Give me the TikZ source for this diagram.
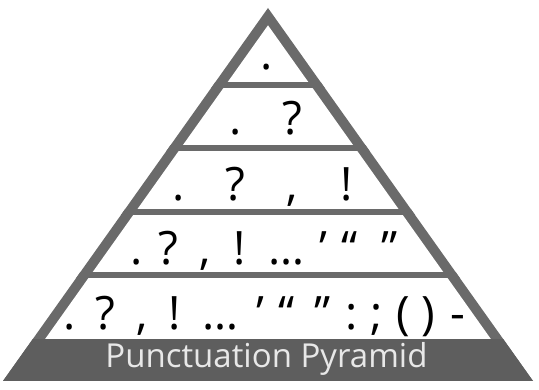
\documentclass[tikz,border=0pt]{standalone}
\usepackage{fontspec}
\setmainfont{Open Sans}
\definecolor{edgegrey}{HTML}{6A6A6A}
\definecolor{basegrey}{HTML}{5E5E5E}
\definecolor{basetext}{HTML}{E8E8E8}
\begin{document}
\begin{tikzpicture}[x=1pt,y=-1pt,
  glyph/.style={anchor=base, inner sep=0pt, font=\fontsize{46}{46}\selectfont, text=black},
  title/.style={anchor=base, inner sep=0pt, font=\fontsize{33}{33}\selectfont, text=basetext}]
\useasboundingbox (0,0) rectangle (539,390);
\fill[white] (0,0) rectangle (539,390);
% outer triangle
\coordinate (apex) at (268,8);
\coordinate (bl) at (3,381);
\coordinate (br) at (533,381);
\fill[edgegrey] (apex) -- (br) -- (bl) -- cycle;
% inner white triangle
\coordinate (iapex) at (268,25.3);
\coordinate (ibl) at (15.3,381);
\coordinate (ibr) at (520.7,381);
\fill[white] (iapex) -- (ibr) -- (ibl) -- cycle;
% bars and base
\begin{scope}
  \clip (apex) -- (br) -- (bl) -- cycle;
  \foreach \yy in {85,148,212,275} {
    \fill[edgegrey] (0,\yy-3) rectangle (539,\yy+3);
  }
  \fill[basegrey] (0,339) rectangle (539,381);
\end{scope}
\node[title] (title) at (266.5,368) {Punctuation Pyramid};
% row 1
\node[glyph] (r1a) at (267,70) {.};
% row 2
\node[glyph] (r2a) at (236,135) {.};
\node[glyph] (r2b) at (292,135) {?};
% row 3
\node[glyph] (r3a) at (179,201) {.};
\node[glyph] (r3b) at (235,201) {?};
\node[glyph] (r3c) at (292,201) {,};
\node[glyph] (r3d) at (347,201) {!};
% row 4
\node[glyph] (r4a) at (137,265) {.};
\node[glyph] (r4b) at (168,265) {?};
\node[glyph] (r4c) at (205,265) {,};
\node[glyph] (r4d) at (240,265) {!};
\node[glyph] (r4e) at (287,265) {…};
\node[glyph] (r4f) at (323,265) {’};
\node[glyph] (r4g) at (350,265) {“};
\node[glyph] (r4h) at (390,265) {”};
% row 5
\node[glyph] (r5a) at (70,330) {.};
\node[glyph] (r5b) at (105,330) {?};
\node[glyph] (r5c) at (142,330) {,};
\node[glyph] (r5d) at (175,330) {!};
\node[glyph] (r5e) at (221,330) {…};
\node[glyph] (r5f) at (260,330) {’};
\node[glyph] (r5g) at (287,330) {“};
\node[glyph] (r5h) at (323,330) {”};
\node[glyph] (r5i) at (352,330) {:};
\node[glyph] (r5j) at (377,330) {;};
\node[glyph] (r5k) at (403,330) {(};
\node[glyph] (r5l) at (428,330) {)};
\node[glyph] (r5m) at (458,330) {-};
\end{tikzpicture}
\end{document}
